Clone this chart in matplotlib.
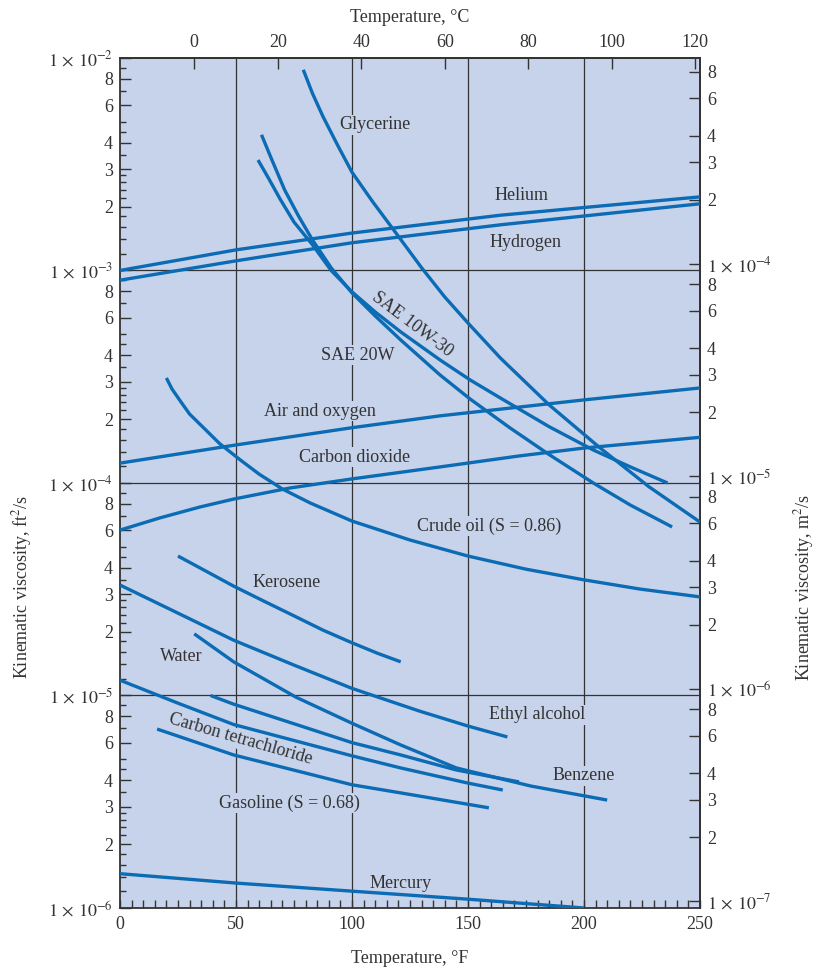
import numpy as np
import matplotlib
matplotlib.use("Agg")
import matplotlib.pyplot as plt
from matplotlib.ticker import FixedLocator, FuncFormatter, NullLocator

plt.rcParams['font.family'] = ['Liberation Serif', 'DejaVu Serif']
plt.rcParams['mathtext.fontset'] = 'stix'

BG = '#c6d3ea'
BLUE = '#0b6bb4'
INK = '#333333'
FS = 13

# temperature in deg F, kinematic viscosity in ft^2/s
glycerine_T = [79, 83, 87.5, 94, 100, 109, 118, 130, 140, 150, 164, 185, 207, 228, 250]
glycerine_nu = [8.8e-3, 6.8e-3, 5.3e-3, 3.85e-3, 2.9e-3, 2.1e-3, 1.55e-3, 1.03e-3, 7.5e-4,
                5.66e-4, 3.87e-4, 2.33e-4, 1.46e-4, 9.6e-5, 6.55e-5]

helium_T = [0, 50, 100, 164, 250]
helium_nu = [1.0e-3, 1.25e-3, 1.5e-3, 1.82e-3, 2.22e-3]

hydrogen_T = [0, 50, 100, 164, 250]
hydrogen_nu = [9.0e-4, 1.11e-3, 1.35e-3, 1.64e-3, 2.06e-3]

sae10w30_T = [59.5, 64, 69, 75, 83, 91, 100, 110, 121, 138, 151, 164, 185, 204, 220, 236]
sae10w30_nu = [3.31e-3, 2.72e-3, 2.17e-3, 1.69e-3, 1.32e-3, 1.0e-3, 7.93e-4, 6.38e-4, 5.14e-4,
               3.79e-4, 3.05e-4, 2.51e-4, 1.84e-4, 1.43e-4, 1.19e-4, 1.0e-4]

sae20w_T = [61, 65.5, 71, 77, 83, 91, 100, 110, 121, 138, 151, 168, 185, 204, 220, 238]
sae20w_nu = [4.35e-3, 3.31e-3, 2.39e-3, 1.8e-3, 1.39e-3, 1.03e-3, 7.84e-4, 6.11e-4, 4.71e-4,
             3.22e-4, 2.48e-4, 1.82e-4, 1.36e-4, 1.0e-4, 7.87e-5, 6.21e-5]

air_T = [0, 50, 100, 138, 200, 250]
air_nu = [1.24e-4, 1.51e-4, 1.82e-4, 2.07e-4, 2.46e-4, 2.8e-4]

co2_T = [0, 17, 34.5, 49, 73, 100, 138, 172, 200, 250]
co2_nu = [6.0e-5, 6.84e-5, 7.71e-5, 8.4e-5, 9.46e-5, 1.045e-4, 1.19e-4, 1.34e-4, 1.46e-4, 1.64e-4]

crude_T = [20, 22.4, 26, 30, 36, 43, 52, 60, 70, 82, 100, 125, 150, 175, 200, 224, 250]
crude_nu = [3.12e-4, 2.77e-4, 2.43e-4, 2.11e-4, 1.82e-4, 1.53e-4, 1.28e-4, 1.1e-4, 9.37e-5,
            8.05e-5, 6.62e-5, 5.39e-5, 4.53e-5, 3.93e-5, 3.5e-5, 3.17e-5, 2.91e-5]

kerosene_T = [25, 37, 49, 62, 75, 87.5, 100, 111, 121]
kerosene_nu = [4.53e-5, 3.85e-5, 3.27e-5, 2.78e-5, 2.37e-5, 2.03e-5, 1.77e-5, 1.58e-5, 1.44e-5]

ethyl_T = [0, 25, 49, 75, 100, 129, 150, 167]
ethyl_nu = [3.31e-5, 2.44e-5, 1.82e-5, 1.39e-5, 1.08e-5, 8.45e-6, 7.18e-6, 6.38e-6]

water_T = [32, 49, 76, 100, 121, 145, 177, 210]
water_nu = [1.95e-5, 1.44e-5, 9.8e-6, 7.4e-6, 5.85e-6, 4.56e-6, 3.75e-6, 3.22e-6]

benzene_T = [39, 49, 76, 100, 121, 145, 172]
benzene_nu = [1.0e-5, 9.1e-6, 7.3e-6, 6.0e-6, 5.25e-6, 4.46e-6, 3.92e-6]

ccl4_T = [0, 25, 49, 100, 121, 150, 165]
ccl4_nu = [1.18e-5, 9.2e-6, 7.3e-6, 5.2e-6, 4.56e-6, 3.87e-6, 3.59e-6]

gasoline_T = [16, 49, 100, 121, 159]
gasoline_nu = [6.95e-6, 5.25e-6, 3.8e-6, 3.48e-6, 2.96e-6]

mercury_T = [0, 50, 100, 150, 200]
mercury_nu = [1.45e-6, 1.31e-6, 1.2e-6, 1.1e-6, 1.0e-6]

curves = [
    (glycerine_T, glycerine_nu), (helium_T, helium_nu), (hydrogen_T, hydrogen_nu),
    (sae10w30_T, sae10w30_nu), (sae20w_T, sae20w_nu), (air_T, air_nu), (co2_T, co2_nu),
    (crude_T, crude_nu), (kerosene_T, kerosene_nu), (ethyl_T, ethyl_nu),
    (water_T, water_nu), (benzene_T, benzene_nu), (ccl4_T, ccl4_nu),
    (gasoline_T, gasoline_nu), (mercury_T, mercury_nu),
]

# curve labels: text, T, nu, rotation
labels = [
    ("Glycerine", 110, 4.84e-3, 0),
    ("Helium", 173, 2.25e-3, 0),
    ("Hydrogen", 175, 1.36e-3, 0),
    ("SAE 10W-30", 126, 5.55e-4, -37),
    ("SAE 20W", 102.5, 4.0e-4, 0),
    ("Air and oxygen", 86, 2.18e-4, 0),
    ("Carbon dioxide", 101, 1.32e-4, 0),
    ("Crude oil (S = 0.86)", 159, 6.28e-5, 0),
    ("Kerosene", 72, 3.39e-5, 0),
    ("Water", 26.5, 1.52e-5, 0),
    ("Ethyl alcohol", 180, 8.1e-6, 0),
    ("Carbon tetrachloride", 52, 6.2e-6, -16),
    ("Benzene", 200, 4.18e-6, 0),
    ("Gasoline (S = 0.68)", 73, 3.12e-6, 0),
    ("Mercury", 121, 1.31e-6, 0),
]

FT2_TO_M2 = 0.09290304


def tick_label(v):
    e = int(np.floor(np.log10(v) + 1e-9))
    m = v / 10 ** e
    if abs(m - 1) < 1e-6:
        return r'$1\,\times\,10^{%d}$' % e
    return '%d' % round(m)


fig = plt.figure(figsize=(8.18, 9.71), dpi=100)
ax = fig.add_axes([0.1467, 0.0649, 0.7090, 0.8754])
ax.set_facecolor(BG)
ax.set_yscale('log')
ax.set_xlim(0, 250)
ax.set_ylim(1e-6, 1e-2)

for T, nu in curves:
    ax.plot(T, nu, color=BLUE, lw=2.4, solid_capstyle='butt', solid_joinstyle='round', zorder=4)

for x in [50, 100, 150, 200]:
    ax.axvline(x, color=INK, lw=0.9, zorder=1)
for y in [1e-5, 1e-4, 1e-3]:
    ax.axhline(y, color=INK, lw=0.9, zorder=1)

for txt, T, nu, rot in labels:
    ax.text(T, nu, txt, ha='center', va='center', rotation=rot, fontsize=FS,
            color=INK, zorder=3, rotation_mode='anchor',
            bbox=dict(facecolor=BG, edgecolor='none', pad=1.0))

# left axis ticks
decades = [1e-6, 1e-5, 1e-4, 1e-3, 1e-2]
major_m = [1, 2, 3, 4, 6, 8]
minor_m = [1.2, 1.4, 1.6, 1.8, 2.2, 2.4, 2.6, 2.8, 3.5, 4.5, 5, 7, 9]
lmaj = [d * m for d in decades for m in major_m if d * m <= 1e-2 * 1.0001]
lmin = [d * m for d in decades[:-1] for m in minor_m]
ax.yaxis.set_major_locator(FixedLocator(lmaj))
ax.yaxis.set_minor_locator(FixedLocator(lmin))
ax.yaxis.set_major_formatter(FuncFormatter(lambda v, p: tick_label(v)))
ax.yaxis.set_minor_formatter(FuncFormatter(lambda v, p: ''))
ax.tick_params(axis='y', which='major', direction='in', length=8, width=1.0,
               color=INK, labelsize=FS, labelcolor=INK, right=False, pad=5)
ax.tick_params(axis='y', which='minor', direction='in', length=4.5, width=1.0,
               color=INK, right=False)

# bottom axis ticks
ax.xaxis.set_major_locator(FixedLocator(list(range(0, 251, 50))))
ax.xaxis.set_minor_locator(FixedLocator(list(range(0, 251, 5))))
ax.tick_params(axis='x', which='both', direction='in', length=5.5, width=1.0,
               color=INK, labelsize=FS, labelcolor=INK, top=False, pad=6)

for s in ax.spines.values():
    s.set_color(INK)
    s.set_linewidth(1.3)

ax.set_xlabel('Temperature, °F', fontsize=FS, color=INK, labelpad=12)

# top axis in deg C
secx = ax.secondary_xaxis('top', functions=(lambda f: (f - 32) / 1.8, lambda c: c * 1.8 + 32))
secx.xaxis.set_major_locator(FixedLocator(list(range(0, 121, 20))))
secx.xaxis.set_minor_locator(NullLocator())
secx.tick_params(direction='in', length=8, width=1.0, color=INK, labelsize=FS,
                 labelcolor=INK, pad=5)
secx.spines['top'].set_color(INK)
secx.spines['top'].set_linewidth(1.3)
secx.set_xlabel('Temperature, °C', fontsize=FS, color=INK, labelpad=9)

# right axis in m^2/s
secy = ax.secondary_yaxis('right', functions=(lambda v: v * FT2_TO_M2, lambda v: v / FT2_TO_M2))
rdec = [1e-7, 1e-6, 1e-5, 1e-4, 1e-3]
rticks = [d * m for d in rdec for m in major_m if 1e-6 * FT2_TO_M2 <= d * m <= 1e-2 * FT2_TO_M2]
secy.yaxis.set_major_locator(FixedLocator(rticks))
secy.yaxis.set_minor_locator(NullLocator())
secy.yaxis.set_major_formatter(FuncFormatter(lambda v, p: tick_label(v)))
secy.tick_params(direction='in', length=8, width=1.0, color=INK, labelsize=FS,
                 labelcolor=INK, pad=5)
secy.spines['right'].set_color(INK)
secy.spines['right'].set_linewidth(1.3)

# side axis titles, placed like the original (below the axes centre)
fig.text(22 / 818, 1 - 587 / 971, 'Kinematic viscosity, ft$^2$/s', rotation=90,
         ha='center', va='center', fontsize=FS, color=INK)
fig.text(804 / 818, 1 - 587 / 971, 'Kinematic viscosity, m$^2$/s', rotation=90,
         ha='center', va='center', fontsize=FS, color=INK)

fig.savefig('out.png', dpi=100)
